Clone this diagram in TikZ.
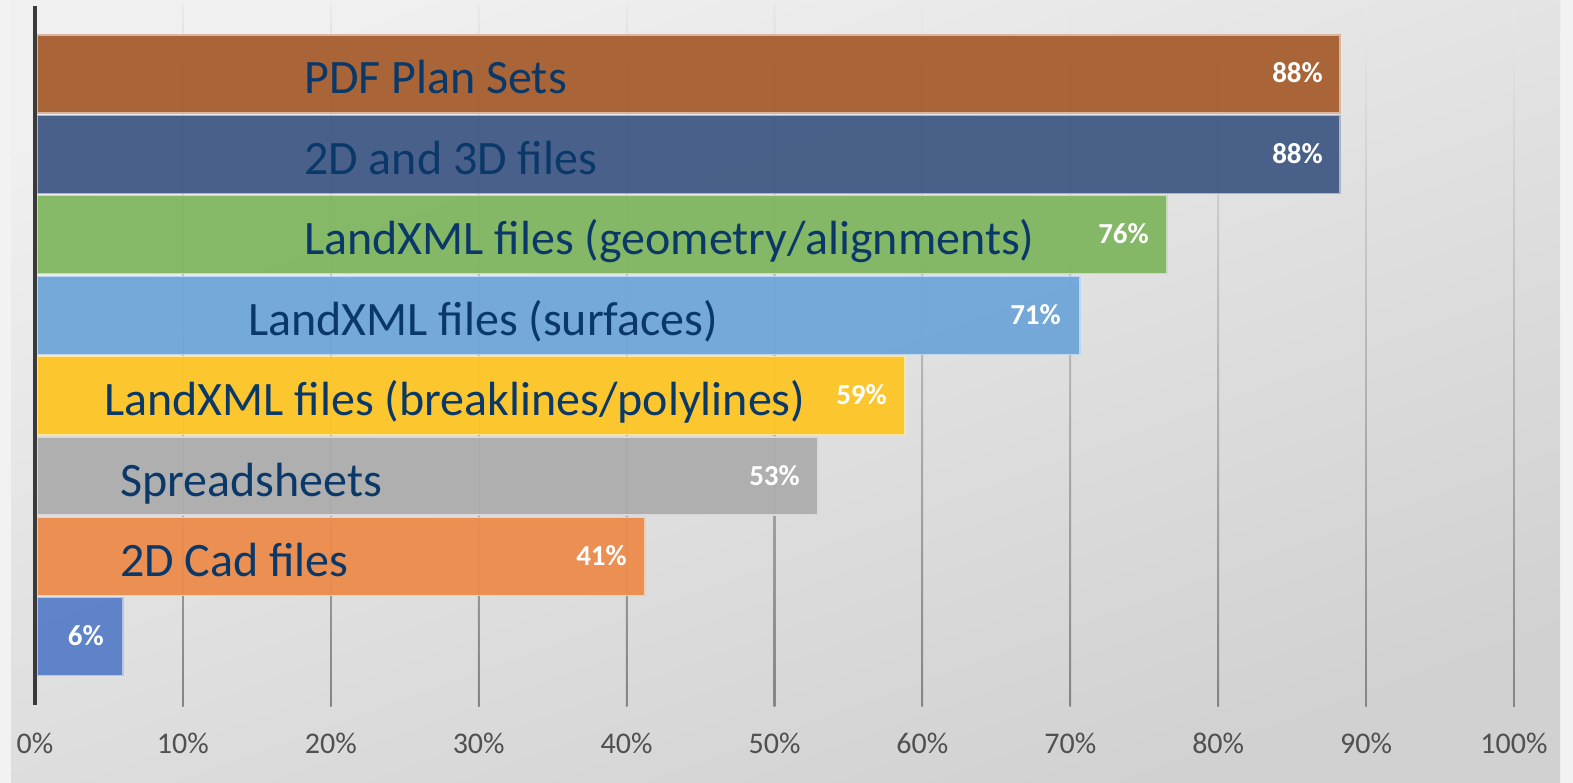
\documentclass[tikz,border=0pt]{standalone}
\usepackage{fontspec}
\setmainfont{Carlito}
\definecolor{framegray}{RGB}{242,242,242}
\definecolor{labelblue}{RGB}{10,56,104}
\definecolor{tickgray}{RGB}{80,80,80}
\definecolor{axisgray}{RGB}{58,58,58}
\definecolor{pdfcol}{RGB}{166,94,46}
\definecolor{filecol}{RGB}{65,90,133}
\definecolor{geomcol}{RGB}{128,182,96}
\definecolor{surfcol}{RGB}{111,166,217}
\definecolor{brkcol}{RGB}{254,198,37}
\definecolor{sheetcol}{RGB}{173,173,173}
\definecolor{cadcol}{RGB}{236,139,76}
\definecolor{othercol}{RGB}{88,127,200}
\begin{document}
\begin{tikzpicture}[x=1pt,y=-1pt,
    barbox/.style={draw=white!55!#1,line width=1.2pt,fill=#1,fill opacity=0.95},
    barlabel/.style={anchor=base west,inner sep=0pt,text=labelblue,font=\fontsize{48}{48}\selectfont},
    pct/.style={anchor=base east,inner sep=0pt,text=white,font=\fontsize{29}{29}\selectfont\bfseries},
    ticklabel/.style={anchor=base,inner sep=0pt,text=tickgray,font=\fontsize{30}{30}\selectfont}]
  \useasboundingbox (0,0) rectangle (1573,783);
  % background
  \fill[framegray] (0,0) rectangle (1573,783);
  \shade[top color=black!6,bottom color=black!18,shading angle=20] (11,0) rectangle (1560,783);
  % grid
  \foreach \k in {1,...,10}
    \shade[top color=black!9,bottom color=black!48] ({35+147.9*\k-0.8},6) rectangle ({35+147.9*\k+0.8},706);
  % bars
  \begin{scope}
    \filldraw[barbox=pdfcol]   (37,35)    rectangle (1340,113);
    \filldraw[barbox=filecol]  (37,115.4) rectangle (1340,193.4);
    \filldraw[barbox=geomcol]  (37,195.8) rectangle (1167,273.8);
    \filldraw[barbox=surfcol]  (37,276.2) rectangle (1080,354.2);
    \filldraw[barbox=brkcol]   (37,356.6) rectangle (905,434.6);
    \filldraw[barbox=sheetcol] (37,437)   rectangle (818,515);
    \filldraw[barbox=cadcol]   (37,517.4) rectangle (645,595.4);
    \filldraw[barbox=othercol] (37,597.8) rectangle (123,675.8);
  \end{scope}
  \draw[axisgray,line width=3.5pt] (35,6) -- (35,705);
  % labels
  \node[barlabel] (pdf)   at (304,94)    {PDF Plan Sets};
  \node[barlabel] (files) at (304,174.4) {2D and 3D files};
  \node[barlabel] (geom)  at (304,254.8) {LandXML files (geometry/alignments)};
  \node[barlabel] (surf)  at (248,335.2) {LandXML files (surfaces)};
  \node[barlabel] (brk)   at (104,415.6) {LandXML files (breaklines/polylines)};
  \node[barlabel] (sheet) at (120,496)   {Spreadsheets};
  \node[barlabel] (cad)   at (120,576.4) {2D Cad files};
  \node[pct] (pdfv)   at (1323,83)    {88\%};
  \node[pct] (filesv) at (1323,163.4) {88\%};
  \node[pct] (geomv)  at (1149,243.8) {76\%};
  \node[pct] (surfv)  at (1061,324.2) {71\%};
  \node[pct] (brkv)   at (887,404.6)  {59\%};
  \node[pct] (sheetv) at (800,485)    {53\%};
  \node[pct] (cadv)   at (627,565.4)  {41\%};
  \node[pct] (otherv) at (104,645.8)  {6\%};
  % axis ticks
  \draw
    (35,753) node[ticklabel] (t0){0\%}
    (182.9,753) node[ticklabel] (t1){10\%}
    (330.8,753) node[ticklabel] (t2){20\%}
    (478.7,753) node[ticklabel] (t3){30\%}
    (626.6,753) node[ticklabel] (t4){40\%}
    (774.5,753) node[ticklabel] (t5){50\%}
    (922.4,753) node[ticklabel] (t6){60\%}
    (1070.3,753) node[ticklabel] (t7){70\%}
    (1218.2,753) node[ticklabel] (t8){80\%}
    (1366.1,753) node[ticklabel] (t9){90\%}
    (1514,753) node[ticklabel] (t10){100\%};
\end{tikzpicture}
\end{document}
